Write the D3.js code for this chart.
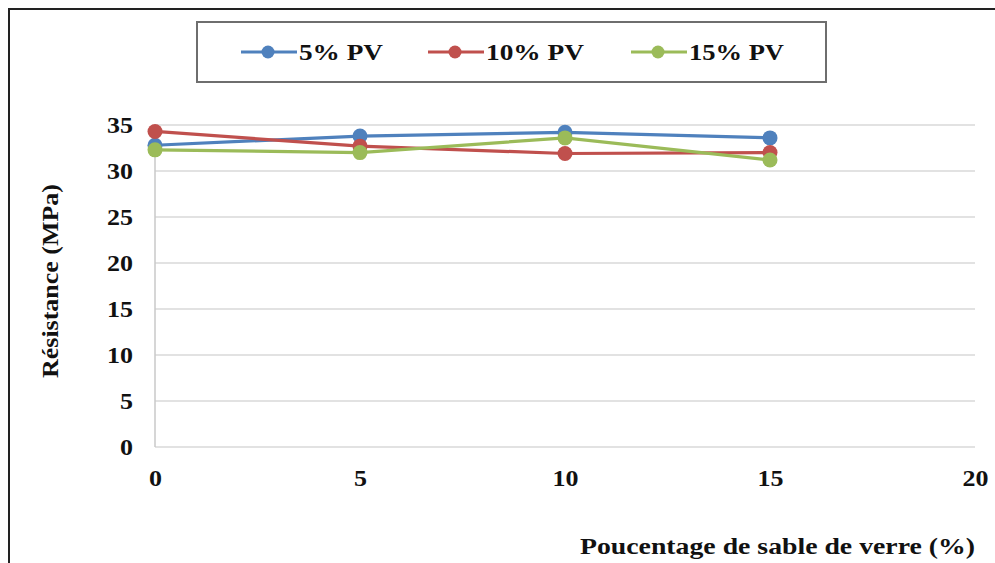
<!DOCTYPE html>
<html>
<head>
<meta charset="utf-8">
<script src="https://cdn.jsdelivr.net/npm/d3@7"></script>
<style>
  body { margin: 0; background: #fff; }
  svg { display: block; }
</style>
</head>
<body>
<svg id="chart" width="995" height="563"></svg>
<script>
// data
const xValues = [0, 5, 10, 15];
const pv5 = [32.8, 33.8, 34.2, 33.6];
const pv10 = [34.3, 32.7, 31.9, 32.0];
const pv15 = [32.3, 32.0, 33.6, 31.2];
const seriesNames = ['5% PV', '10% PV', '15% PV'];
const seriesColors = ['#4F81BD', '#C0504D', '#9BBB59'];
const xTicks = [0, 5, 10, 15, 20];
const yTicks = [0, 5, 10, 15, 20, 25, 30, 35];

const series = [pv5, pv10, pv15].map((vals, i) => ({
  name: seriesNames[i],
  color: seriesColors[i],
  points: vals.map((v, j) => ({ x: xValues[j], y: v }))
}));

const FONT = '"Liberation Serif", "Times New Roman", "DejaVu Serif", serif';
const svg = d3.select('#chart');

const plotLeft = 155;
const plotRight = 975;
const plotTop = 125;
const plotBottom = 447;
const stretch = 1.13; // the source picture is a little wider than tall

const x = d3.scaleLinear().domain([0, 20]).range([plotLeft, plotRight]);
const y = d3.scaleLinear().domain([0, 35]).range([plotBottom, plotTop]);

// outer frame (right and bottom edges fall outside the picture)
svg.append('rect')
  .attr('x', 9)
  .attr('y', 9)
  .attr('width', 1000)
  .attr('height', 600)
  .attr('fill', 'none')
  .attr('stroke', '#222')
  .attr('stroke-width', 2);

// horizontal gridlines
svg.append('g')
  .selectAll('line')
  .data(yTicks)
  .join('line')
  .attr('x1', plotLeft)
  .attr('x2', plotRight)
  .attr('y1', d => y(d))
  .attr('y2', d => y(d))
  .attr('stroke', '#d9d9d9')
  .attr('stroke-width', 1.5);

// left axis line
svg.append('line')
  .attr('x1', plotLeft)
  .attr('x2', plotLeft)
  .attr('y1', y(35))
  .attr('y2', y(0))
  .attr('stroke', '#c8c8c8')
  .attr('stroke-width', 1.5);

// y axis labels
const yAxisG = svg.append('g')
  .attr('transform', `translate(${plotLeft}, 0)`)
  .call(d3.axisLeft(y).tickValues(yTicks).tickSize(0));
yAxisG.select('.domain').remove();
yAxisG.selectAll('text')
  .attr('x', -22 / stretch)
  .attr('dy', '0.34em')
  .attr('transform', `scale(${stretch}, 1)`)
  .attr('font-family', FONT)
  .attr('font-size', 23)
  .attr('font-weight', 'bold')
  .attr('fill', '#111');

// x axis labels
const xAxisG = svg.append('g')
  .attr('transform', `translate(0, ${plotBottom})`)
  .call(d3.axisBottom(x).tickValues(xTicks).tickSize(0));
xAxisG.select('.domain').remove();
xAxisG.selectAll('text')
  .attr('y', 39)
  .attr('dy', 0)
  .attr('transform', `scale(${stretch}, 1)`)
  .attr('font-family', FONT)
  .attr('font-size', 23)
  .attr('font-weight', 'bold')
  .attr('fill', '#111');

// axis titles
svg.append('text')
  .attr('transform', 'translate(58, 281) rotate(-90)')
  .attr('text-anchor', 'middle')
  .attr('font-family', FONT)
  .attr('font-size', 23)
  .attr('font-weight', 'bold')
  .attr('fill', '#111')
  .attr('textLength', 194)
  .attr('lengthAdjust', 'spacingAndGlyphs')
  .text('Résistance (MPa)');

svg.append('text')
  .attr('x', 580)
  .attr('y', 554)
  .attr('font-family', FONT)
  .attr('font-size', 23)
  .attr('font-weight', 'bold')
  .attr('fill', '#111')
  .attr('textLength', 395)
  .attr('lengthAdjust', 'spacingAndGlyphs')
  .text('Poucentage de sable de verre (%)');

// lines and markers
const line = d3.line().x(d => x(d.x)).y(d => y(d.y));

const seriesG = svg.append('g')
  .selectAll('g')
  .data(series)
  .join('g');

seriesG.append('path')
  .attr('d', d => line(d.points))
  .attr('fill', 'none')
  .attr('stroke', d => d.color)
  .attr('stroke-width', 3.2);

seriesG.selectAll('circle')
  .data(d => d.points.map(p => ({ ...p, color: d.color })))
  .join('circle')
  .attr('cx', d => x(d.x))
  .attr('cy', d => y(d.y))
  .attr('r', 7.5)
  .attr('fill', d => d.color);

// legend
svg.append('rect')
  .attr('x', 197)
  .attr('y', 22)
  .attr('width', 629)
  .attr('height', 60)
  .attr('fill', '#fff')
  .attr('stroke', '#6e6e6e')
  .attr('stroke-width', 2);

const legendX = [241, 428, 631];
const legendTextW = [84, 98, 95];
const legend = svg.append('g')
  .selectAll('g')
  .data(series)
  .join('g')
  .attr('transform', (d, i) => `translate(${legendX[i]}, 52)`);

legend.append('line')
  .attr('x1', 0)
  .attr('x2', 56)
  .attr('stroke', d => d.color)
  .attr('stroke-width', 3.2);

legend.append('circle')
  .attr('cx', 27)
  .attr('r', 6.5)
  .attr('fill', d => d.color);

legend.append('text')
  .attr('x', 58)
  .attr('y', 8)
  .attr('font-family', FONT)
  .attr('font-size', 23)
  .attr('font-weight', 'bold')
  .attr('fill', '#111')
  .attr('textLength', (d, i) => legendTextW[i])
  .attr('lengthAdjust', 'spacingAndGlyphs')
  .text(d => d.name);
</script>
</body>
</html>
